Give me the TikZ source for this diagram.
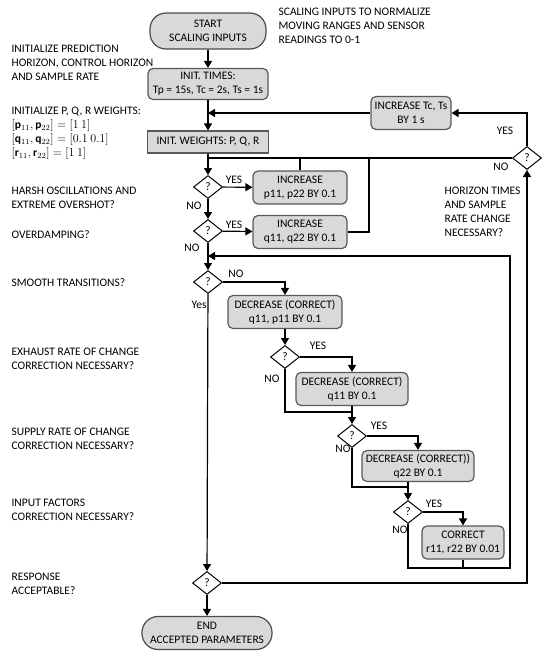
\documentclass[tikz,border=0pt]{standalone}
\usepackage{fontspec}
\setmainfont{Carlito}
\usepackage{amsmath}
\usetikzlibrary{arrows.meta}
\usetikzlibrary{shapes.geometric}

\begin{document}
\begin{tikzpicture}[x=1pt,y=-1pt,
  font=\fontsize{11.5}{14}\selectfont,
  text=black,
  line width=1.2pt,
  >={Triangle[length=7pt,width=8pt]},
  pill/.style={draw=black!70,fill=black!15,rounded corners=16pt,align=center,inner sep=0pt},
  procbox/.style={draw=black!65,fill=black!15,rounded corners=5pt,align=center,inner sep=0pt,minimum height=33pt},
  initbox/.style={draw=black!65,fill=black!15,align=center,inner sep=0pt},
  ask/.style={diamond,draw,fill=white,minimum width=29pt,minimum height=23pt,inner sep=0pt,line width=1pt},
  note/.style={align=left,anchor=west,inner sep=0pt},
  lbl/.style={inner sep=0pt}]

\useasboundingbox (0,0) rectangle (550,662);

% main column
\node[pill,minimum width=116pt,minimum height=36pt] (start) at (208,31) {START\\SCALING INPUTS};
\node[procbox,minimum width=120pt,minimum height=31pt] (times) at (208,84) {INIT. TIMES:\\Tp = 15s, Tc = 2s, Ts = 1s};
\node[initbox,minimum width=121pt,minimum height=22pt] (weights) at (208,142) {INIT. WEIGHTS: P, Q, R};
\node[ask] (harsh) at (208,187) {?};
\node[ask] (damp) at (208,231) {?};
\node[ask] (smooth) at (208,282) {?};
\node[ask] (accept) at (207,583) {?};
\node[pill,minimum width=130pt,minimum height=33pt] (end) at (207,633) {END\\ACCEPTED PARAMETERS};

% corrections
\node[procbox,minimum width=94pt] (incp) at (300,187.5) {INCREASE\\p11, p22 BY 0.1};
\node[procbox,minimum width=94pt] (incq) at (300,232) {INCREASE\\q11, q22 BY 0.1};
\node[procbox,minimum width=114pt] (decqp) at (285,312) {DECREASE (CORRECT)\\q11, p11 BY 0.1};
\node[ask] (exhaust) at (285,357) {?};
\node[procbox,minimum width=112pt] (decq) at (352,389) {DECREASE (CORRECT)\\q11 BY 0.1};
\node[ask] (supply) at (352,436) {?};
\node[procbox,minimum width=112pt,minimum height=31pt] (decqq) at (418,466) {DECREASE (CORRECT))\\q22 BY 0.1};
\node[ask] (input) at (408,512) {?};
\node[procbox,minimum width=82pt] (corr) at (463,542.5) {CORRECT\\r11, r22 BY 0.01};

% horizon loop
\node[ask] (horizon) at (527,158) {?};
\node[procbox,minimum width=80pt] (inct) at (411,113) {INCREASE Tc, Ts\\BY 1 s};

\coordinate (back1) at (208,113);
\coordinate (back2) at (208,158);
\coordinate (back3) at (208,256);
\coordinate (kq) at (369,158);
\coordinate (j1) at (352,412);
\coordinate (j2) at (408,487);
\coordinate (j3) at (510,568);

\draw[->] (start) -- (times);
\draw[->] (times) -- (weights);
\draw[->] (weights) -- (harsh);
\draw[->] (harsh) -- (damp);
\draw[->] (damp) -- (smooth);
\draw[->] (smooth) -- (accept);
\draw[->] (accept) -- (end);

\draw[->] (harsh) -- (incp);
\draw[->] (damp) -- (incq);
\draw (incp.north) -- (incp.north |- back2);
\draw (incq.east) -| (kq);
\draw (horizon.west) -- (back2);

\draw[->] (smooth.east) -| (decqp.north);
\draw[->] (decqp) -- (exhaust);
\draw[->] (exhaust.east) -| (decq.north);
\draw (exhaust.south) |- (j1);
\draw (decq.south) -- (j1);
\draw[->] (j1) -- (supply);
\draw[->] (supply.east) -| (decqq.north);
\draw (supply.south) |- (j2);
\draw (decqq.south -| j2) -- (j2);
\draw[->] (j2) -- (input);
\draw[->] (input.east) -| (corr.north);
\draw (corr.south) -- (corr.south |- j3);
\draw[->] (input.south) |- (j3) |- (back3);

\draw[->] (accept.east) -| (horizon.south);
\draw[->] (horizon.north) |- (inct.east);
\draw[->] (inct.west) -- (back1);

% yes / no
\node[lbl] (y1) at (234,180) {YES};
\node[lbl] (n1) at (194,206) {NO};
\node[lbl] (y2) at (234,225) {YES};
\node[lbl] (n2) at (192,248) {NO};
\node[lbl] (n3) at (236,274) {NO};
\node[lbl] (y3) at (199,305) {Yes};
\node[lbl] (y4) at (318,346) {YES};
\node[lbl] (n4) at (272,379) {NO};
\node[lbl] (y5) at (379,426) {YES};
\node[lbl] (n5) at (343,449) {NO};
\node[lbl] (y6) at (434,504) {YES};
\node[lbl] (n6) at (400,530) {NO};
\node[lbl] (y7) at (505,131) {YES};
\node[lbl] (n7) at (501,167) {NO};

% side notes
\node[note] (tscale) at (278,26) {SCALING INPUTS TO NORMALIZE\\MOVING RANGES AND SENSOR\\READINGS TO 0-1};
\node[note] (tinit) at (11,62.5) {INITIALIZE PREDICTION\\HORIZON, CONTROL HORIZON\\AND SAMPLE RATE};
\node[note] (tweights) at (11,133.5) {INITIALIZE P, Q, R WEIGHTS:\\
  $[\mathbf{p}_{11}, \mathbf{p}_{22}] = [1\ 1]$\\
  $[\mathbf{q}_{11}, \mathbf{q}_{22}] = [0.1\ 0.1]$\\
  $[\mathbf{r}_{11}, \mathbf{r}_{22}] = [1\ 1]$};
\node[note] (tharsh) at (11,197.5) {HARSH OSCILLATIONS AND\\EXTREME OVERSHOT?};
\node[note] (tdamp) at (11,235) {OVERDAMPING?};
\node[note] (tsmooth) at (11,283) {SMOOTH TRANSITIONS?};
\node[note] (texhaust) at (11,358.5) {EXHAUST RATE OF CHANGE\\CORRECTION NECESSARY?};
\node[note] (tsupply) at (11,439) {SUPPLY RATE OF CHANGE\\CORRECTION NECESSARY?};
\node[note] (tinput) at (11,510) {INPUT FACTORS\\CORRECTION NECESSARY?};
\node[note] (taccept) at (11,584) {RESPONSE\\ACCEPTABLE?};
\node[note] (thorizon) at (444,211.5) {HORIZON TIMES\\AND SAMPLE\\RATE CHANGE\\NECESSARY?};
\end{tikzpicture}
\end{document}
